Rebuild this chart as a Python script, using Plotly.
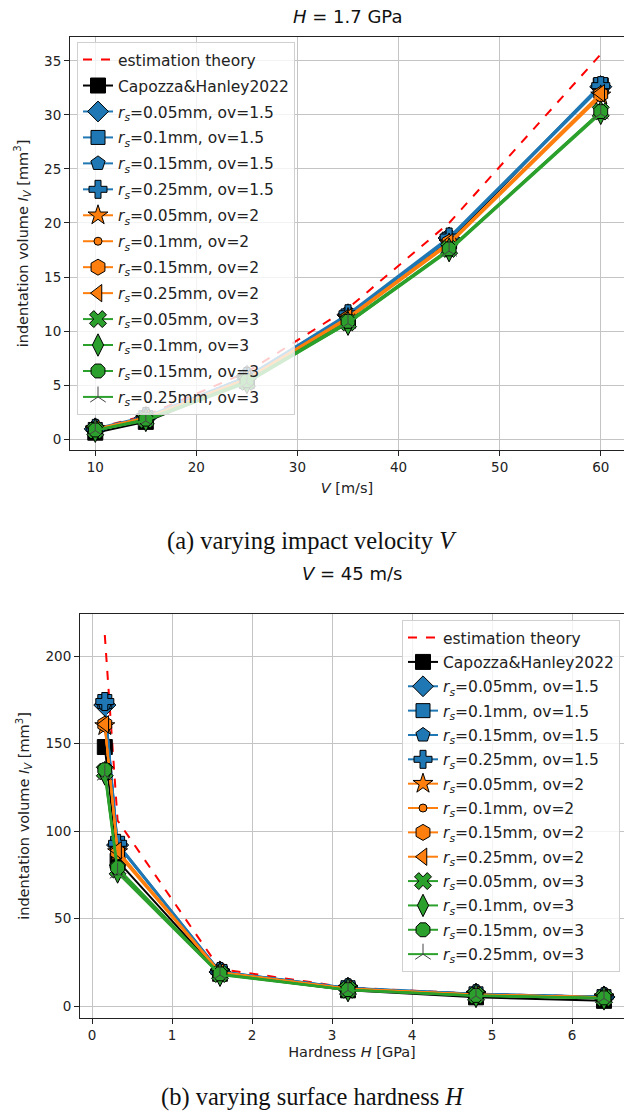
import plotly.graph_objects as go

# ---------------- data: (a) varying impact velocity ----------------
V = [10, 15, 25, 35, 45, 60]
a_theory = [0.99, 2.2, 6.2, 12.1, 20.0, 35.6]
a_capozza = [0.6, 1.6, 5.4, 11.1, 18.3, 32.7]
a_b005 = [0.95, 2.0, 5.8, 11.5, 18.6, 32.6]
a_b010 = [0.9, 2.0, 5.7, 11.4, 18.5, 32.8]
a_b015 = [0.9, 1.9, 5.7, 11.4, 18.5, 32.5]
a_b025 = [1.0, 2.1, 5.8, 11.6, 18.7, 32.7]
a_o005 = [0.9, 1.9, 5.6, 11.2, 18.1, 31.8]
a_o010 = [0.9, 1.9, 5.5, 11.1, 18.0, 31.7]
a_o015 = [0.9, 2.0, 5.6, 11.2, 18.2, 31.9]
a_o025 = [0.95, 2.0, 5.6, 11.3, 18.2, 32.0]
a_g005 = [0.8, 1.8, 5.3, 10.8, 17.6, 30.3]
a_g010 = [0.8, 1.8, 5.3, 10.7, 17.5, 30.2]
a_g015 = [0.85, 1.85, 5.4, 10.9, 17.6, 30.3]
a_g025 = [0.8, 1.7, 5.2, 10.7, 17.4, 30.1]

# ---------------- data: (b) varying surface hardness ----------------
H = [0.16, 0.32, 1.6, 3.2, 4.8, 6.4]
b_theory = [212, 106, 21.2, 10.6, 7.1, 5.3]
b_capozza = [148, 83, 18.5, 9.0, 5.0, 3.0]
b_b005 = [172, 92, 19.5, 10.2, 6.8, 5.2]
b_b010 = [174, 93, 19.8, 10.5, 7.0, 5.4]
b_b015 = [173, 92, 19.6, 10.3, 6.9, 5.3]
b_b025 = [174, 93, 19.7, 10.4, 7.0, 5.3]
b_o005 = [160, 88, 19.2, 9.8, 6.5, 5.0]
b_o010 = [160, 87, 19.0, 9.7, 6.4, 4.9]
b_o015 = [161, 88, 19.3, 9.9, 6.6, 5.0]
b_o025 = [161, 89, 19.4, 10.0, 6.6, 5.1]
b_g005 = [134, 78, 18.3, 9.3, 6.0, 4.6]
b_g010 = [133, 77, 18.0, 9.2, 5.9, 4.5]
b_g015 = [135, 79, 18.4, 9.4, 6.1, 4.7]
b_g025 = [132, 76, 17.8, 9.0, 5.8, 4.4]

labels = ["0.05mm, ov=1.5", "0.1mm, ov=1.5", "0.15mm, ov=1.5", "0.25mm, ov=1.5",
          "0.05mm, ov=2", "0.1mm, ov=2", "0.15mm, ov=2", "0.25mm, ov=2",
          "0.05mm, ov=3", "0.1mm, ov=3", "0.15mm, ov=3", "0.25mm, ov=3"]

BLUE, ORANGE, GREEN = "#1f77b4", "#ff7f0e", "#2ca02c"
styles = [  # colour, symbol, size
    (BLUE, "diamond", 17), (BLUE, "square", 14), (BLUE, "pentagon", 15), (BLUE, "cross", 15),
    (ORANGE, "star", 15), (ORANGE, "circle", 8), (ORANGE, "hexagon", 16), (ORANGE, "triangle-left", 15),
    (GREEN, "x", 15), (GREEN, "diamond-tall", 17), (GREEN, "octagon", 15), (GREEN, "y-up", 13),
]

a_sims = [a_b005, a_b010, a_b015, a_b025, a_o005, a_o010, a_o015, a_o025, a_g005, a_g010, a_g015, a_g025]
b_sims = [b_b005, b_b010, b_b015, b_b025, b_o005, b_o010, b_o015, b_o025, b_g005, b_g010, b_g015, b_g025]

fig = go.Figure()


def add_panel(x, theory, capozza, sims, xa, ya, leg, grp):
    fig.add_trace(go.Scatter(x=x, y=theory, mode="lines", name="estimation theory",
                             line=dict(color="red", dash="dash", width=2),
                             xaxis=xa, yaxis=ya, legend=leg, legendgroup=grp + "t"))
    fig.add_trace(go.Scatter(x=x, y=capozza, mode="lines+markers", name="Capozza&Hanley2022",
                             line=dict(color="black", width=2),
                             marker=dict(symbol="square", size=15, color="black",
                                         line=dict(color="black", width=1)),
                             xaxis=xa, yaxis=ya, legend=leg, legendgroup=grp + "c"))
    for i, (vals, lab, (col, sym, sz)) in enumerate(zip(sims, labels, styles)):
        if sym.startswith("y-"):
            mk = dict(symbol=sym, size=sz, color=col, line=dict(color="#444444", width=1))
        else:
            mk = dict(symbol=sym, size=sz, color=col, line=dict(color="black", width=1))
        fig.add_trace(go.Scatter(x=x, y=vals, mode="lines+markers",
                                 name="<i>r</i><sub><i>s</i></sub>=" + lab,
                                 line=dict(color=col, width=2), marker=mk,
                                 xaxis=xa, yaxis=ya, legend=leg, legendgroup=grp + str(i)))


add_panel(V, a_theory, a_capozza, a_sims, "x", "y", "legend", "a")
add_panel(H, b_theory, b_capozza, b_sims, "x2", "y2", "legend2", "b")

W, HT = 624, 1119
FONT = "DejaVu Sans"
TXT = "#222222"
axis_common = dict(showline=True, linecolor=TXT, linewidth=1, mirror=True,
                   ticks="outside", ticklen=5, tickcolor=TXT,
                   showgrid=True, gridcolor="#c4c4c4", gridwidth=1, zeroline=False,
                   tickfont=dict(family=FONT, size=13.5, color=TXT))
title_font = dict(family=FONT, size=14.5, color=TXT)
ylab = "indentation volume <i>I</i><sub><i>V</i></sub> [mm<sup>3</sup>]"

legend_common = dict(bgcolor="rgba(255,255,255,0.8)", bordercolor="#d0d0d0", borderwidth=1,
                     font=dict(family=FONT, size=15.5, color=TXT), yanchor="top")

fig.update_layout(
    width=W, height=HT, margin=dict(l=0, r=0, t=0, b=0),
    paper_bgcolor="white", plot_bgcolor="white", showlegend=True,
    xaxis=dict(domain=[70 / W, 1.0], range=[7.5, 62.3], tickvals=[10, 20, 30, 40, 50, 60],
               anchor="y", **axis_common,
               title=dict(text="<i>V</i> [m/s]", font=title_font, standoff=8)),
    yaxis=dict(domain=[1 - 450 / HT, 1 - 37 / HT], range=[-1.0, 37.2], tickvals=[0, 5, 10, 15, 20, 25, 30, 35],
               anchor="x", **axis_common,
               title=dict(text=ylab, font=title_font, standoff=12)),
    xaxis2=dict(domain=[80 / W, 1.0], range=[-0.15, 6.65], tickvals=[0, 1, 2, 3, 4, 5, 6],
                anchor="y2", **axis_common,
                title=dict(text="Hardness <i>H</i> [GPa]", font=title_font, standoff=4)),
    yaxis2=dict(domain=[1 - 1018 / HT, 1 - 614 / HT], range=[-6.8, 224], tickvals=[0, 50, 100, 150, 200],
                anchor="x2", **axis_common,
                title=dict(text=ylab, font=title_font, standoff=12)),
    legend=dict(x=77 / W, y=1 - 42 / HT, xanchor="left", tracegroupgap=2.8, **legend_common),
    legend2=dict(x=620 / W, y=1 - 620 / HT, xanchor="right", tracegroupgap=1.2, **legend_common),
)

ann = [
    dict(text="<i>H</i> = 1.7 GPa", x=347 / W, y=1 - 17 / HT, size=18, fam=FONT),
    dict(text="<i>V</i> = 45 m/s", x=352 / W, y=1 - 573 / HT, size=18, fam=FONT),
    dict(text="(a) varying impact velocity <i>V</i>", x=312 / W, y=1 - 541 / HT, size=24.5, fam="Liberation Serif"),
    dict(text="(b) varying surface hardness <i>H</i>", x=312 / W, y=1 - 1097 / HT, size=24.5, fam="Liberation Serif"),
]
for a in ann:
    fig.add_annotation(text=a["text"], x=a["x"], y=a["y"], xref="paper", yref="paper",
                       xanchor="center", yanchor="middle", showarrow=False,
                       font=dict(family=a["fam"], size=a["size"], color="#111111"))

fig.write_html("out.html")
